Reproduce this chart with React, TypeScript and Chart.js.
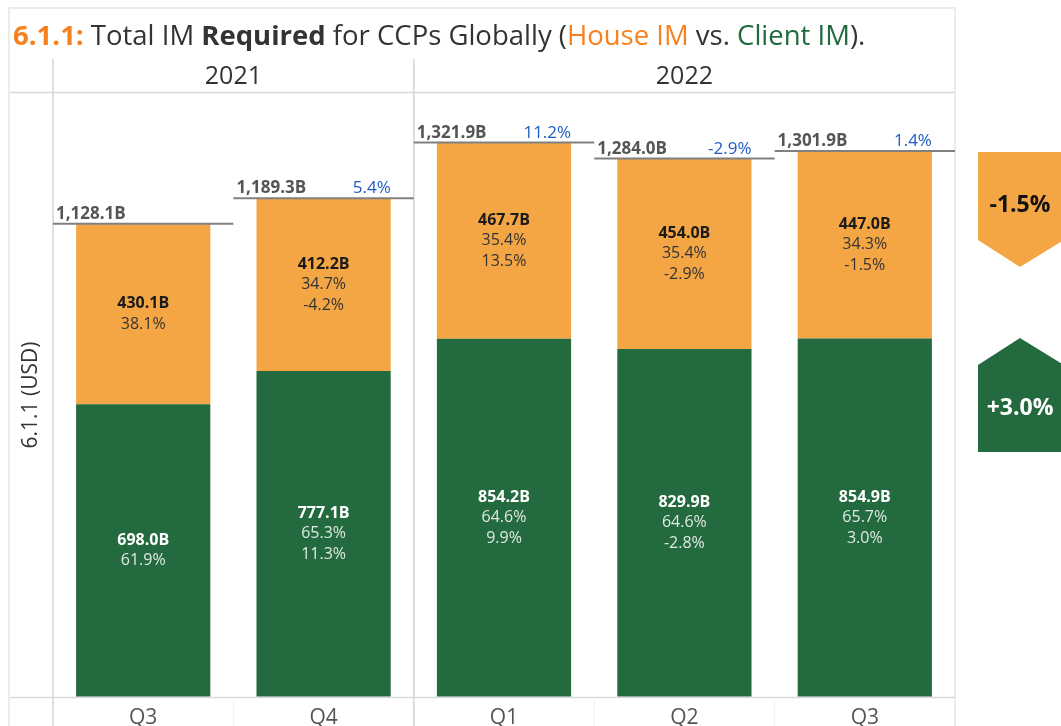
import React, { useEffect, useRef } from "react";
import { Chart, registerables } from "chart.js";

Chart.register(...registerables);

const quarters = ["Q3", "Q4", "Q1", "Q2", "Q3"];
const years = ["2021", "2022"];
const yearQuarterCounts = [2, 3];
const houseIM = [430.1, 412.2, 467.7, 454.0, 447.0];
const clientIM = [698.0, 777.1, 854.2, 829.9, 854.9];
const totalIM = [1128.1, 1189.3, 1321.9, 1284.0, 1301.9];
const totalChange: (number | null)[] = [null, 5.4, 11.2, -2.9, 1.4];
const houseShare = [38.1, 34.7, 35.4, 35.4, 34.3];
const houseChange: (number | null)[] = [null, -4.2, 13.5, -2.9, -1.5];
const clientShare = [61.9, 65.3, 64.6, 64.6, 65.7];
const clientChange: (number | null)[] = [null, 11.3, 9.9, -2.8, 3.0];

const ORANGE = "#F4A645";
const GREEN = "#246A3F";
const TITLE_ORANGE = "#F7811E";
const TITLE_GREEN = "#1F6B3E";
const FONT = "'Open Sans', 'Noto Sans', sans-serif";

const fmtB = (v: number) =>
  v.toLocaleString("en-US", { minimumFractionDigits: 1, maximumFractionDigits: 1 }) + "B";
const fmtP = (v: number) => v.toFixed(1) + "%";

const decorPlugin = {
  id: "decor",
  beforeDraw(chart: any) {
    const { ctx, chartArea } = chart;
    const { left, right, bottom } = chartArea;
    ctx.save();
    ctx.fillStyle = "#fff";
    ctx.fillRect(0, 0, chart.width, chart.height);
    // outer frame
    ctx.strokeStyle = "#ececec";
    ctx.lineWidth = 2;
    ctx.beginPath();
    ctx.moveTo(9, chart.height);
    ctx.lineTo(9, 8);
    ctx.lineTo(right, 8);
    ctx.lineTo(right, chart.height);
    ctx.stroke();
    // header bottom line
    ctx.strokeStyle = "#d9d9d9";
    ctx.lineWidth = 1.5;
    ctx.beginPath();
    ctx.moveTo(10, 92.5);
    ctx.lineTo(right, 92.5);
    ctx.stroke();
    // axis bottom line
    ctx.beginPath();
    ctx.moveTo(10, bottom + 0.5);
    ctx.lineTo(right, bottom + 0.5);
    ctx.stroke();
    // vertical dividers
    const xs = chart.scales.x;
    const catW = (right - left) / quarters.length;
    ctx.strokeStyle = "#d4d4d4";
    ctx.lineWidth = 1.5;
    let idx = 0;
    const divs = [left];
    yearQuarterCounts.forEach((c) => {
      idx += c;
      if (idx < quarters.length) divs.push(xs.getPixelForValue(idx) - catW / 2);
    });
    divs.forEach((x) => {
      ctx.beginPath();
      ctx.moveTo(x, 59);
      ctx.lineTo(x, chart.height);
      ctx.stroke();
    });
    // faint tick separators in the x label band
    ctx.strokeStyle = "#f0f0f0";
    ctx.lineWidth = 1;
    for (let i = 1; i < quarters.length; i++) {
      const x = xs.getPixelForValue(i) - catW / 2;
      if (divs.some((d) => Math.abs(d - x) < 1)) continue;
      ctx.beginPath();
      ctx.moveTo(x, bottom);
      ctx.lineTo(x, chart.height);
      ctx.stroke();
    }
    // year headers
    ctx.fillStyle = "#333";
    ctx.font = `25px ${FONT}`;
    ctx.textAlign = "center";
    ctx.textBaseline = "middle";
    let start = 0;
    years.forEach((y, i) => {
      const n = yearQuarterCounts[i];
      const x0 = xs.getPixelForValue(start) - catW / 2;
      const x1 = xs.getPixelForValue(start + n - 1) + catW / 2;
      ctx.fillText(y, (x0 + x1) / 2, 77);
      start += n;
    });
    // y axis title
    ctx.save();
    ctx.translate(31, (chartArea.top + bottom) / 2 + 0);
    ctx.rotate(-Math.PI / 2);
    ctx.font = `21px ${FONT}`;
    ctx.fillStyle = "#333";
    ctx.fillText("6.1.1 (USD)", 0, 0);
    ctx.restore();
    // title
    const segs: [string, string, string][] = [
      ["6.1.1: ", "bold", TITLE_ORANGE],
      ["Total IM ", "normal", "#333"],
      ["Required", "bold", "#333"],
      [" for CCPs Globally (", "normal", "#333"],
      ["House IM", "normal", TITLE_ORANGE],
      [" vs. ", "normal", "#333"],
      ["Client IM", "normal", TITLE_GREEN],
      [").", "normal", "#333"],
    ];
    let tx = 13;
    ctx.textAlign = "left";
    ctx.textBaseline = "alphabetic";
    segs.forEach(([t, w, c]) => {
      ctx.font = `${w === "bold" ? "bold " : ""}27.5px ${FONT}`;
      ctx.fillStyle = c;
      ctx.fillText(t, tx, 45);
      tx += ctx.measureText(t).width;
    });
    ctx.restore();
  },
  afterDatasetsDraw(chart: any) {
    const { ctx, chartArea } = chart;
    const xs = chart.scales.x;
    const ys = chart.scales.y;
    const catW = (chartArea.right - chartArea.left) / quarters.length;
    const greenMeta = chart.getDatasetMeta(0);
    const orangeMeta = chart.getDatasetMeta(1);
    ctx.save();
    const drawBlock = (el: any, lines: [string, boolean][], dark: boolean) => {
      const cy = (el.y + el.base) / 2;
      const n = lines.length;
      ctx.textAlign = "center";
      ctx.textBaseline = "middle";
      lines.forEach(([t, bold], k) => {
        ctx.font = `${bold ? "bold " : ""}16px ${FONT}`;
        ctx.fillStyle = dark ? (bold ? "#1a1a1a" : "#333") : bold ? "#ffffff" : "#dfe9e2";
        ctx.fillText(t, el.x, cy + (k - (n - 1) / 2) * 20.5);
      });
    };
    quarters.forEach((_, i) => {
      const o = orangeMeta.data[i];
      const g = greenMeta.data[i];
      const oLines: [string, boolean][] = [[fmtB(houseIM[i]), true], [fmtP(houseShare[i]), false]];
      if (houseChange[i] !== null) oLines.push([fmtP(houseChange[i] as number), false]);
      drawBlock(o, oLines, true);
      const gLines: [string, boolean][] = [[fmtB(clientIM[i]), true], [fmtP(clientShare[i]), false]];
      if (clientChange[i] !== null) gLines.push([fmtP(clientChange[i] as number), false]);
      drawBlock(g, gLines, false);
      // total line
      const cx = xs.getPixelForValue(i);
      const x0 = cx - catW / 2;
      const x1 = cx + catW / 2;
      const ty = ys.getPixelForValue(totalIM[i]);
      ctx.strokeStyle = "#808080";
      ctx.lineWidth = 2;
      ctx.beginPath();
      ctx.moveTo(x0, ty);
      ctx.lineTo(x1, ty);
      ctx.stroke();
      ctx.textBaseline = "bottom";
      ctx.textAlign = "left";
      ctx.font = `bold 17px ${FONT}`;
      ctx.fillStyle = "#555";
      ctx.fillText(fmtB(totalIM[i]), x0 + 3, ty - 1);
      if (totalChange[i] !== null) {
        ctx.textAlign = "right";
        ctx.font = `17px ${FONT}`;
        ctx.fillStyle = "#1E5BC6";
        ctx.fillText(fmtP(totalChange[i] as number), o.x + o.width / 2, ty - 1);
      }
    });
    // badges
    const last = quarters.length - 1;
    const bx0 = chartArea.right + 23;
    const bx1 = bx0 + 86;
    const bcx = bx0 + 42;
    const hc = houseChange[last] as number;
    const cc = clientChange[last] as number;
    ctx.fillStyle = ORANGE;
    ctx.beginPath();
    ctx.moveTo(bx0, 152);
    ctx.lineTo(bx1, 152);
    ctx.lineTo(bx1, 240);
    ctx.lineTo(bcx, 267);
    ctx.lineTo(bx0, 240);
    ctx.closePath();
    ctx.fill();
    ctx.fillStyle = GREEN;
    ctx.beginPath();
    ctx.moveTo(bcx, 338);
    ctx.lineTo(bx1, 365);
    ctx.lineTo(bx1, 452);
    ctx.lineTo(bx0, 452);
    ctx.lineTo(bx0, 365);
    ctx.closePath();
    ctx.fill();
    ctx.textAlign = "center";
    ctx.textBaseline = "middle";
    ctx.font = `bold 23px ${FONT}`;
    ctx.fillStyle = "#111";
    ctx.fillText((hc > 0 ? "+" : "") + fmtP(hc), bcx, 205);
    ctx.fillStyle = "#fff";
    ctx.fillText((cc > 0 ? "+" : "") + fmtP(cc), bcx, 408);
    ctx.restore();
  },
};

export default function App() {
  const ref = useRef<HTMLCanvasElement>(null);
  useEffect(() => {
    if (!ref.current) return;
    const chart = new Chart(ref.current, {
      type: "bar",
      data: {
        labels: quarters,
        datasets: [
          { label: "Client IM", data: clientIM, backgroundColor: GREEN, stack: "s" },
          { label: "House IM", data: houseIM, backgroundColor: ORANGE, stack: "s" },
        ],
      },
      options: {
        animation: false,
        responsive: true,
        maintainAspectRatio: false,
        layout: { padding: { left: 53, right: 106, top: 93, bottom: 0 } },
        datasets: { bar: { categoryPercentage: 1, barPercentage: 0.744 } },
        plugins: { legend: { display: false }, tooltip: { enabled: false }, title: { display: false } },
        scales: {
          x: {
            stacked: true,
            grid: { display: false },
            border: { display: false },
            ticks: { font: { size: 21, family: FONT }, color: "#555", padding: 0 },
            afterFit: (s: any) => {
              s.height = 29;
            },
          },
          y: {
            stacked: true,
            min: 0,
            max: 1440,
            ticks: { display: false, stepSize: 1000 },
            grid: {
              drawTicks: false,
              color: (c: any) => (c.tick && c.tick.value === 1000 ? "#efefef" : "rgba(0,0,0,0)"),
            },
            border: { display: false },
            afterFit: (s: any) => {
              s.width = 0;
            },
          },
        },
      },
      plugins: [decorPlugin],
    });
    return () => chart.destroy();
  }, []);
  return (
    <div style={{ position: "fixed", left: 0, top: 0, width: 1061, height: 726 }}>
      <canvas ref={ref} />
    </div>
  );
}
